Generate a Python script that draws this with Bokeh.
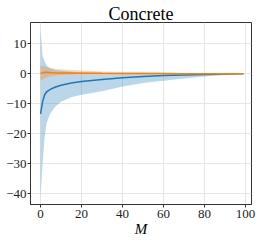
from bokeh.plotting import figure
from bokeh.models import Range1d, FixedTicker
from bokeh.embed import file_html
from bokeh.resources import INLINE

title_text = "Concrete"
x_label = "M"

m = [0, 1, 2, 3, 4, 5, 7, 10, 15, 20, 25, 30, 40, 50, 60, 70, 80, 90, 99]

blue_mean = [-13.4, -9.3, -7.0, -6.0, -5.5, -5.1, -4.5, -3.8, -3.1, -2.6, -2.2, -1.9, -1.3, -0.9, -0.6, -0.4, -0.2, -0.1, 0.0]
blue_lo = [-41.5, -30.0, -21.0, -16.5, -14.5, -13.0, -11.1, -9.3, -7.8, -7.0, -6.4, -5.8, -4.2, -3.1, -2.3, -1.6, -0.9, -0.4, 0.0]
blue_hi = [15.0, 6.0, 4.2, 2.8, 2.2, 1.8, 1.3, 1.0, 0.7, 0.5, 0.4, 0.3, 0.2, 0.15, 0.1, 0.05, 0.03, 0.01, 0.0]

orange_mean = [0.2, 0.3, 0.5, 0.5, 0.45, 0.4, 0.35, 0.3, 0.25, 0.2, 0.18, 0.15, 0.1, 0.08, 0.06, 0.04, 0.03, 0.01, 0.0]
orange_lo = [-2.3, -2.0, -1.5, -1.2, -1.0, -0.9, -0.6, -0.4, -0.2, -0.1, -0.08, -0.06, -0.05, -0.04, -0.03, -0.02, -0.01, 0.0, 0.0]
orange_hi = [2.7, 2.6, 2.4, 2.2, 2.0, 1.9, 1.7, 1.5, 1.3, 1.1, 0.95, 0.8, 0.6, 0.5, 0.35, 0.25, 0.15, 0.07, 0.0]

x_ticks = [0, 20, 40, 60, 80, 100]
y_ticks = [-40, -30, -20, -10, 0, 10]
y_tick_labels = ["\u221240", "\u221230", "\u221220", "\u221210", "0", "10"]

BLUE = "#1f77b4"
ORANGE = "#ff7f0e"
SPINE = "#333333"
FONT = "Liberation Serif"

p = figure(width=258, height=242, output_backend="svg", toolbar_location=None,
           x_range=Range1d(-4.9, 102.9), y_range=Range1d(-43.57, 17.1),
           min_border_left=30, min_border_right=7, min_border_top=22, min_border_bottom=38)

p.varea(x=m, y1=blue_lo, y2=blue_hi, fill_color=BLUE, fill_alpha=0.3)
p.line(x=m, y=blue_mean, line_color=BLUE, line_width=1.5)
p.varea(x=m, y1=orange_lo, y2=orange_hi, fill_color=ORANGE, fill_alpha=0.3)
p.line(x=m, y=orange_mean, line_color=ORANGE, line_width=1.5)

p.title.text = title_text
p.title.align = "center"
p.title.text_font = FONT
p.title.text_font_size = "18px"
p.title.text_font_style = "normal"
p.title.text_color = "black"
p.title.standoff = -3

p.outline_line_color = SPINE
p.outline_line_width = 1
p.outline_line_alpha = 1

p.xaxis.ticker = FixedTicker(ticks=x_ticks)
p.yaxis.ticker = FixedTicker(ticks=y_ticks)
p.yaxis.major_label_overrides = dict(zip(y_ticks, y_tick_labels))

for ax in (p.xaxis, p.yaxis):
    ax.axis_line_color = SPINE
    ax.major_tick_line_color = SPINE
    ax.major_tick_in = 0
    ax.major_tick_out = 3
    ax.minor_tick_line_color = None
    ax.major_label_text_font = FONT
    ax.major_label_text_font_size = "13px"
    ax.major_label_text_color = "#222222"
p.xaxis.major_label_standoff = 2
p.yaxis.major_label_standoff = 1

p.xaxis.axis_label = x_label
p.xaxis.axis_label_text_font = FONT
p.xaxis.axis_label_text_font_style = "italic"
p.xaxis.axis_label_text_font_size = "15px"
p.xaxis.axis_label_text_color = "black"
p.xaxis.axis_label_standoff = 0

p.grid.grid_line_color = "#e6e6e6"
p.grid.grid_line_width = 1

open("out.html", "w").write(file_html(p, INLINE))
